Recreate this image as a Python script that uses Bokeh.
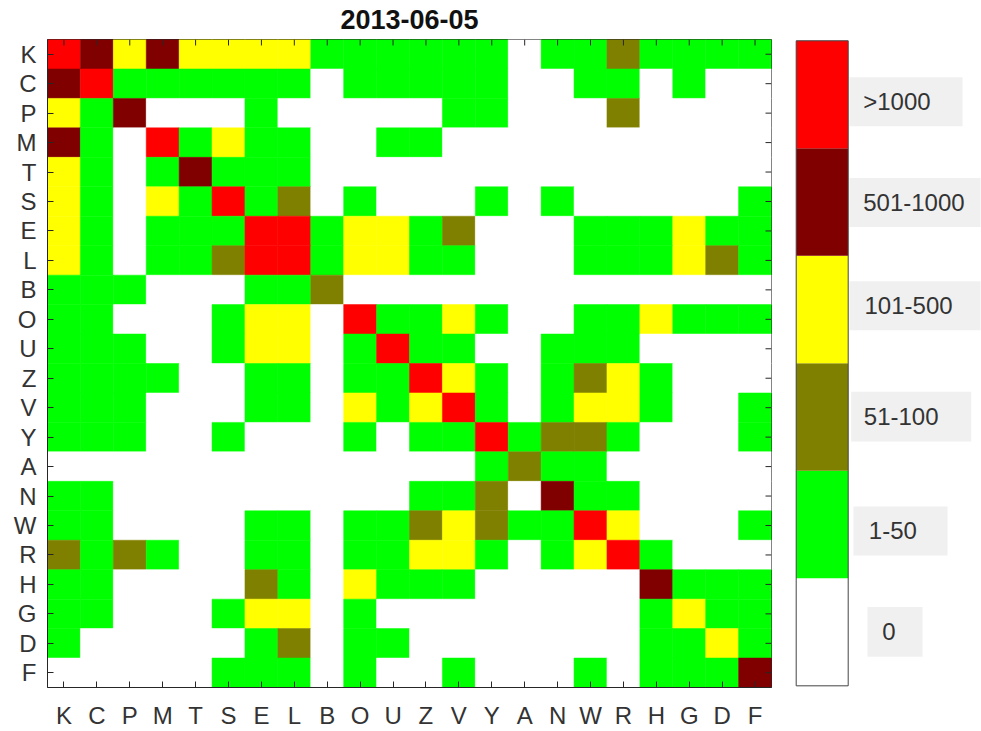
from bokeh.plotting import figure
from bokeh.models import FactorRange, Range1d, ColumnDataSource
from bokeh.layouts import row, column
from bokeh.embed import file_html
from bokeh.resources import INLINE
from bokeh.core.properties import value

# ---------------- data ----------------
title_text = "2013-06-05"
labels = ["K", "C", "P", "M", "T", "S", "E", "L", "B", "O", "U",
          "Z", "V", "Y", "A", "N", "W", "R", "H", "G", "D", "F"]
bin_labels = ["0", "1-50", "51-100", "101-500", "501-1000", ">1000"]
bin_colors = ["#ffffff", "#00ff00", "#808000", "#ffff00", "#800000", "#ff0000"]

# class index (0..5 -> bin_labels) for each row (y label) / column (x label)
level_matrix = [
    [5, 4, 3, 4, 3, 3, 3, 3, 1, 1, 1, 1, 1, 1, 0, 1, 1, 2, 1, 1, 1, 1],  # K
    [4, 5, 1, 1, 1, 1, 1, 1, 0, 1, 1, 1, 1, 1, 0, 0, 1, 1, 0, 1, 0, 0],  # C
    [3, 1, 4, 0, 0, 0, 1, 0, 0, 0, 0, 0, 1, 1, 0, 0, 0, 2, 0, 0, 0, 0],  # P
    [4, 1, 0, 5, 1, 3, 1, 1, 0, 0, 1, 1, 0, 0, 0, 0, 0, 0, 0, 0, 0, 0],  # M
    [3, 1, 0, 1, 4, 1, 1, 1, 0, 0, 0, 0, 0, 0, 0, 0, 0, 0, 0, 0, 0, 0],  # T
    [3, 1, 0, 3, 1, 5, 1, 2, 0, 1, 0, 0, 0, 1, 0, 1, 0, 0, 0, 0, 0, 1],  # S
    [3, 1, 0, 1, 1, 1, 5, 5, 1, 3, 3, 1, 2, 0, 0, 0, 1, 1, 1, 3, 1, 1],  # E
    [3, 1, 0, 1, 1, 2, 5, 5, 1, 3, 3, 1, 1, 0, 0, 0, 1, 1, 1, 3, 2, 1],  # L
    [1, 1, 1, 0, 0, 0, 1, 1, 2, 0, 0, 0, 0, 0, 0, 0, 0, 0, 0, 0, 0, 0],  # B
    [1, 1, 0, 0, 0, 1, 3, 3, 0, 5, 1, 1, 3, 1, 0, 0, 1, 1, 3, 1, 1, 1],  # O
    [1, 1, 1, 0, 0, 1, 3, 3, 0, 1, 5, 1, 1, 0, 0, 1, 1, 1, 0, 0, 0, 0],  # U
    [1, 1, 1, 1, 0, 0, 1, 1, 0, 1, 1, 5, 3, 1, 0, 1, 2, 3, 1, 0, 0, 0],  # Z
    [1, 1, 1, 0, 0, 0, 1, 1, 0, 3, 1, 3, 5, 1, 0, 1, 3, 3, 1, 0, 0, 1],  # V
    [1, 1, 1, 0, 0, 1, 0, 0, 0, 1, 0, 1, 1, 5, 1, 2, 2, 1, 0, 0, 0, 1],  # Y
    [0, 0, 0, 0, 0, 0, 0, 0, 0, 0, 0, 0, 0, 1, 2, 1, 1, 0, 0, 0, 0, 0],  # A
    [1, 1, 0, 0, 0, 0, 0, 0, 0, 0, 0, 1, 1, 2, 0, 4, 1, 1, 0, 0, 0, 0],  # N
    [1, 1, 0, 0, 0, 0, 1, 1, 0, 1, 1, 2, 3, 2, 1, 1, 5, 3, 0, 0, 0, 1],  # W
    [2, 1, 2, 1, 0, 0, 1, 1, 0, 1, 1, 3, 3, 1, 0, 1, 3, 5, 1, 0, 0, 0],  # R
    [1, 1, 0, 0, 0, 0, 2, 1, 0, 3, 1, 1, 1, 0, 0, 0, 0, 0, 4, 1, 1, 1],  # H
    [1, 1, 0, 0, 0, 1, 3, 3, 0, 1, 0, 0, 0, 0, 0, 0, 0, 0, 1, 3, 1, 1],  # G
    [1, 0, 0, 0, 0, 0, 1, 2, 0, 1, 1, 0, 0, 0, 0, 0, 0, 0, 1, 1, 3, 1],  # D
    [0, 0, 0, 0, 0, 1, 1, 1, 0, 1, 0, 0, 1, 0, 0, 0, 1, 0, 1, 1, 1, 4],  # F
]

# ---------------- styling ----------------
FONT = "Liberation Sans"
AX_COLOR = "#262626"
TXT_COLOR = "#333333"
PAGE_W, PAGE_H = 981, 731
TITLE_H = 37                      # strip holding the title
LEFT, RIGHT, BOTTOM = 47, 10, 43
TOP = 2                           # frame top at page y = 39
FRAME_W = 724
MAIN_H = PAGE_H - TITLE_H
FRAME_H = MAIN_H - TOP - BOTTOM
TICK_PX = 6
TITLE_MID_Y = 19                  # vertical middle of the title text (page px)


def bare(fig):
    fig.grid.visible = False
    fig.outline_line_color = None
    fig.background_fill_color = "white"
    fig.border_fill_color = "white"


# ---------------- title strip (page-pixel coordinates) ----------------
tf = figure(width=PAGE_W, height=TITLE_H,
            x_range=Range1d(0, PAGE_W), y_range=Range1d(TITLE_H, 0),
            output_backend="svg", toolbar_location=None,
            x_axis_location=None, y_axis_location=None,
            min_border_left=0, min_border_right=0,
            min_border_top=0, min_border_bottom=0)
bare(tf)
tf.text(x=[LEFT + FRAME_W / 2], y=[TITLE_MID_Y], text=[title_text],
        text_font=value(FONT), text_font_size="27px", text_font_style="bold",
        text_color="#111111", text_align="center", text_baseline="middle")

# ---------------- heat map ----------------
xs, ys, cols = [], [], []
for r, row_vals in enumerate(level_matrix):
    for c, lvl in enumerate(row_vals):
        xs.append(labels[c])
        ys.append(labels[r])
        cols.append(bin_colors[lvl])
src = ColumnDataSource(dict(x=xs, y=ys, color=cols))

p = figure(width=LEFT + FRAME_W + RIGHT, height=MAIN_H,
           x_range=FactorRange(factors=labels),
           y_range=FactorRange(factors=labels[::-1]),
           output_backend="svg", toolbar_location=None,
           min_border_left=LEFT, min_border_right=RIGHT,
           min_border_top=TOP, min_border_bottom=BOTTOM)
p.rect(x="x", y="y", width=1, height=1, source=src,
       fill_color="color", line_color="color", line_width=0.5)

p.grid.visible = False
p.outline_line_color = AX_COLOR
p.background_fill_color = "white"
p.border_fill_color = "white"

for ax in [p.xaxis[0], p.yaxis[0]]:
    ax.major_tick_in = TICK_PX
    ax.major_tick_out = 0
    ax.axis_line_color = AX_COLOR
    ax.major_tick_line_color = AX_COLOR
    ax.major_label_text_font = FONT
    ax.major_label_text_font_size = "24px"
    ax.major_label_text_color = TXT_COLOR
p.xaxis.major_label_standoff = 14
p.yaxis.major_label_standoff = 11
p.yaxis.major_label_orientation = "horizontal"

# mirrored inward ticks on the top and right edges (synthetic factor coords)
n = len(labels)
tx = TICK_PX * n / FRAME_W
ty = TICK_PX * n / FRAME_H
centers = [i + 0.5 for i in range(n)]
p.segment(x0=centers, x1=centers, y0=[n] * n, y1=[n - ty] * n,
          line_color=AX_COLOR, line_width=1)
p.segment(x0=[n] * n, x1=[n - tx] * n, y0=centers, y1=centers,
          line_color=AX_COLOR, line_width=1)

# ---------------- colour bar (page-pixel coordinates) ----------------
x0_page = LEFT + FRAME_W + RIGHT
CB_W = PAGE_W - x0_page
CB_BOTTOM_BORDER = 41
cb = figure(width=CB_W, height=MAIN_H,
            x_range=Range1d(x0_page, PAGE_W),
            y_range=Range1d(PAGE_H - CB_BOTTOM_BORDER, TITLE_H),
            output_backend="svg", toolbar_location=None,
            x_axis_location=None, y_axis_location=None,
            min_border_left=0, min_border_right=0,
            min_border_top=0, min_border_bottom=CB_BOTTOM_BORDER)
bare(cb)

cb_left, cb_right, cb_top, cb_bottom = 795.7, 847.7, 38.3, 688.3
step = (cb_bottom - cb_top) / len(bin_colors)
seg_bottom = [cb_bottom - i * step for i in range(len(bin_colors))]
seg_top = [cb_bottom - (i + 1) * step for i in range(len(bin_colors))]
cb.quad(left=cb_left, right=cb_right, bottom=seg_bottom, top=seg_top,
        fill_color=bin_colors, line_color=None)
cb.quad(left=cb_left, right=cb_right, bottom=cb_bottom, top=cb_top,
        fill_color=None, line_color="#444444", line_width=1)

# label boxes (order follows bin_labels)
box_left = [867, 853, 850.7, 849, 849, 849]
box_right = [922, 947, 970.7, 980, 980, 962]
box_top = [609, 507.5, 392, 280.5, 176.5, 75]
box_bottom = [659, 557, 442, 330, 226, 124.3]
text_x = [881.7, 868.3, 863.3, 864, 862.7, 862.7]
cb.quad(left=box_left, right=box_right, top=box_top, bottom=box_bottom,
        fill_color="#f0f0f0", line_color=None)
cb.text(x=text_x, y=[(t + b) / 2 for t, b in zip(box_top, box_bottom)],
        text=bin_labels, text_font=value(FONT), text_font_size="24px",
        text_color=TXT_COLOR, text_align="left", text_baseline="middle")

layout = column(tf, row(p, cb))
open("out.html", "w").write(file_html(layout, INLINE))
